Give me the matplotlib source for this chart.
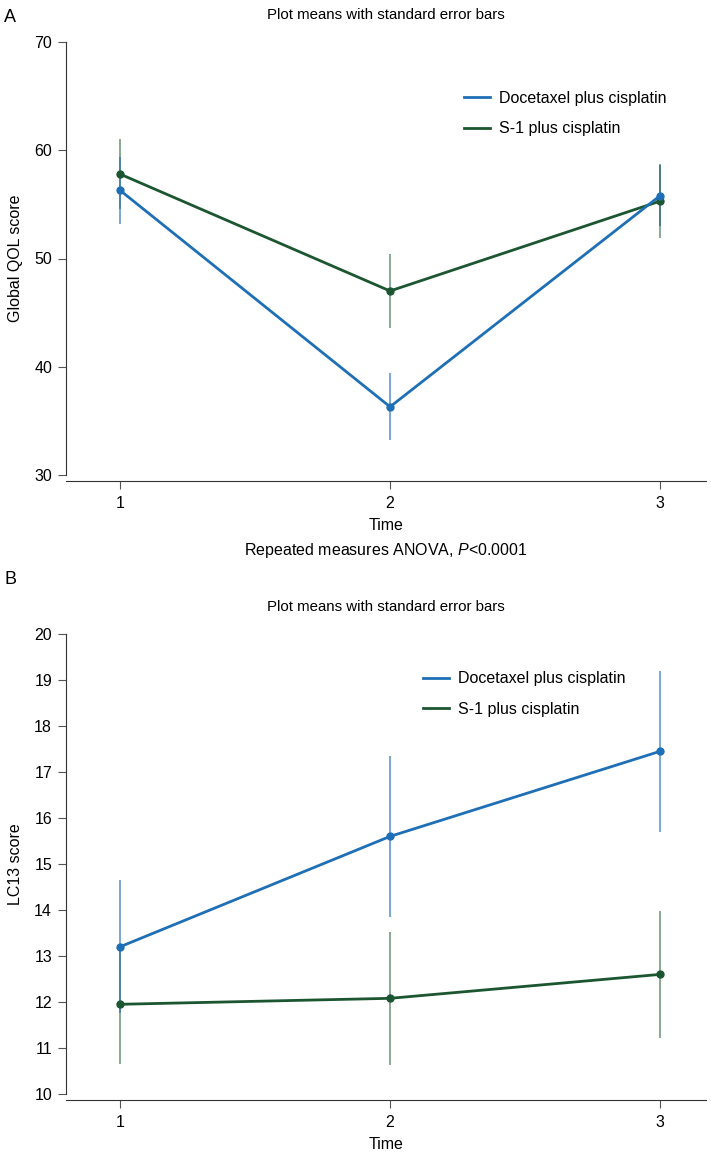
import numpy as np
import matplotlib
matplotlib.use("Agg")
from matplotlib import pyplot as plt
from matplotlib.lines import Line2D

plt.rcParams['font.family'] = ['Liberation Sans', 'DejaVu Sans']
plt.rcParams['mathtext.fontset'] = 'custom'
plt.rcParams['mathtext.rm'] = 'Liberation Sans'
plt.rcParams['mathtext.it'] = 'Liberation Sans:italic'

time = [1, 2, 3]
groups = ['Docetaxel plus cisplatin', 'S-1 plus cisplatin']

# panel A: global QOL
qol_doc = [56.3, 36.3, 55.8]
qol_doc_se = [3.1, 3.1, 2.8]
qol_s1 = [57.8, 47.0, 55.3]
qol_s1_se = [3.2, 3.4, 3.4]

# panel B: LC13
lc_doc = [13.2, 15.6, 17.45]
lc_doc_se = [1.45, 1.75, 1.75]
lc_s1 = [11.95, 12.08, 12.6]
lc_s1_se = [1.3, 1.45, 1.38]

blue = '#1f6fb6'
green = '#1c5631'

W, H = 711, 1155
fig = plt.figure(figsize=(W / 100, H / 100), dpi=100)

def panel(rect, doc, doc_se, s1, s1_se, ylim, yticks, ylabel, green_top, leg_xy):
    ax = fig.add_axes(rect)
    # error bars, drawn point by point so the overlap order can vary
    for i, t in enumerate(time):
        zb, zg = (2, 3) if green_top[i] else (3, 2)
        ax.vlines(t, doc[i] - doc_se[i], doc[i] + doc_se[i], color=blue, lw=1.2, alpha=0.7, zorder=zb)
        ax.vlines(t, s1[i] - s1_se[i], s1[i] + s1_se[i], color=green, lw=1.2, alpha=0.6, zorder=zg)
    ax.plot(time, s1, color=green, lw=2, marker='o', ms=5, zorder=4)
    ax.plot(time, doc, color=blue, lw=2, marker='o', ms=5, zorder=5)
    ax.set_xlim(0.8, 3.17)
    ax.set_ylim(*ylim)
    ax.set_xticks(time)
    ax.set_yticks(yticks)
    for s in ['top', 'right']:
        ax.spines[s].set_visible(False)
    ax.spines['bottom'].set_position(('outward', 4))
    ax.spines['left'].set_color('#333333')
    ax.spines['bottom'].set_color('#333333')
    ax.tick_params(direction='out', length=6, width=0.8, color='#555555', labelsize=11.5, pad=4)
    ax.tick_params(axis='x', pad=5)
    ax.set_ylabel(ylabel, fontsize=11.5, labelpad=8)
    ax.set_xlabel('Time', fontsize=11.5, labelpad=5)
    handles = [Line2D([], [], color=blue, lw=2), Line2D([], [], color=green, lw=2)]
    ax.legend(handles, groups, loc='upper left', bbox_to_anchor=leg_xy, frameon=False,
              fontsize=11.5, handlelength=1.6, handletextpad=0.55, labelspacing=0.95)
    return ax

axA = panel([66 / W, 1 - 475 / H, 640 / W, 433 / H], qol_doc, qol_doc_se, qol_s1, qol_s1_se,
            (30, 70), [30, 40, 50, 60, 70], 'Global QOL score', [False, False, True], (0.6, 0.92))
axB = panel([66 / W, 1 - 1094 / H, 640 / W, 460 / H], lc_doc, lc_doc_se, lc_s1, lc_s1_se,
            (10, 20), list(range(10, 21)), 'LC13 score', [False, False, False], (0.536, 0.95))

fig.text(386 / W, 1 - 15 / H, 'Plot means with standard error bars', ha='center', va='center', fontsize=10.8)
fig.text(386 / W, 1 - 607 / H, 'Plot means with standard error bars', ha='center', va='center', fontsize=10.8)
fig.text(386 / W, 1 - 551 / H, 'Repeated measures ANOVA, $\\it{P}$<0.0001', ha='center', va='center', fontsize=11.5)
fig.text(4 / W, 1 - 17 / H, 'A', ha='left', va='center', fontsize=13)
fig.text(4 / W, 1 - 580 / H, 'B', ha='left', va='center', fontsize=13)

fig.savefig('out.png', dpi=100)
